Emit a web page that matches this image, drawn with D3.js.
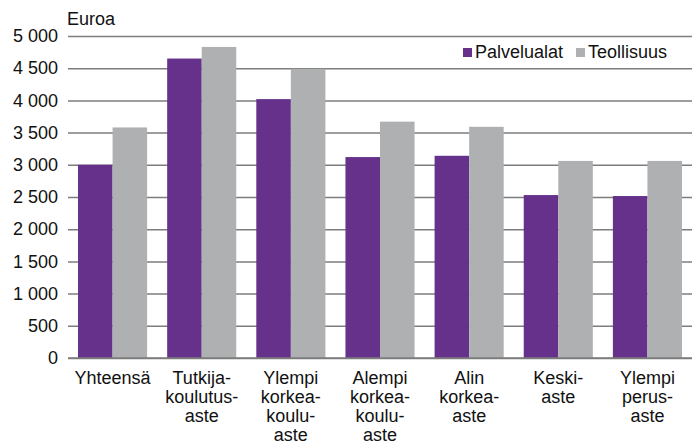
<!DOCTYPE html>
<html>
<body style="margin:0">
<meta charset="UTF-8">
<style>
    body { font-family: "Liberation Sans", Arial, sans-serif; background: white; }
    text { font-family: "Liberation Sans", Arial, sans-serif; fill: #111; }
</style>
<script src="https://d3js.org/d3.v7.min.js"></script>
<script>

    var categories = [
        ["Yhteensä"],
        ["Tutkija-", "koulutus-", "aste"],
        ["Ylempi", "korkea-", "koulu-", "aste"],
        ["Alempi", "korkea-", "koulu-", "aste"],
        ["Alin", "korkea-", "aste"],
        ["Keski-", "aste"],
        ["Ylempi", "perus-", "aste"]
    ];
    var palvelualat = [3000, 4650, 4020, 3120, 3140, 2530, 2515];
    var teollisuus = [3580, 4830, 4490, 3670, 3590, 3060, 3060];
    var seriesNames = ["Palvelualat", "Teollisuus"];
    var colors = ["#65318a", "#aeb0b2"];
    var yTicks = [0, 500, 1000, 1500, 2000, 2500, 3000, 3500, 4000, 4500, 5000];

    var width = 692, height = 441;
    var mLeft = 68, mRight = 692, mTop = 36, mBottom = 358;
    var fs = "18px";

    var svg = d3.select("body").append("svg")
        .attr("width", width)
        .attr("height", height);

    var x = d3.scaleBand()
        .domain(d3.range(categories.length))
        .range([mLeft, mRight])
        .paddingInner(0.225)
        .paddingOuter(0.1125);

    var xs = d3.scaleBand()
        .domain(d3.range(2))
        .range([0, x.bandwidth()]);

    var y = d3.scaleLinear().domain([0, 5000]).range([mBottom, mTop]);

    var fmt = function(d) { return d3.format(",")(d).replace(",", " "); };

    // gridlines + ticks
    var yAxis = svg.append("g")
        .attr("transform", "translate(" + mLeft + ",0)")
        .call(d3.axisLeft(y).tickValues(yTicks).tickSize(-(mRight - mLeft)).tickPadding(10).tickFormat(fmt));
    yAxis.select(".domain").remove();
    yAxis.selectAll("line").attr("stroke", "#7d7d7d").attr("stroke-width", 1.5);
    yAxis.selectAll("text")
        .attr("font-size", fs)
        .attr("fill", "#111")
        .attr("font-family", "Liberation Sans, Arial, sans-serif");

    svg.append("text")
        .attr("x", 67).attr("y", 25)
        .attr("font-size", fs)
        .text("Euroa");

    var data = categories.map(function(c, i) { return [palvelualat[i], teollisuus[i]]; });

    var groups = svg.selectAll(".grp")
        .data(data)
        .enter().append("g")
        .attr("class", "grp")
        .attr("transform", function(d, i) { return "translate(" + x(i) + ",0)"; });

    groups.selectAll("rect")
        .data(function(d) { return d; })
        .enter().append("rect")
        .attr("x", function(d, j) { return xs(j); })
        .attr("y", function(d) { return y(d); })
        .attr("width", xs.bandwidth())
        .attr("height", function(d) { return mBottom - y(d); })
        .style("fill", function(d, j) { return colors[j]; });

    // baseline over bars
    svg.append("line")
        .attr("x1", mLeft).attr("x2", mRight)
        .attr("y1", y(0)).attr("y2", y(0))
        .attr("stroke", "#7d7d7d").attr("stroke-width", 1.5);

    // category labels
    var labels = svg.selectAll(".lbl")
        .data(categories)
        .enter().append("text")
        .attr("class", "lbl")
        .attr("text-anchor", "middle")
        .attr("font-size", fs)
        .attr("transform", function(d, i) { return "translate(" + (x(i) + x.bandwidth() / 2) + ",384)"; });
    labels.selectAll("tspan")
        .data(function(d) { return d; })
        .enter().append("tspan")
        .attr("x", 0)
        .attr("y", function(d, k) { return k * 19; })
        .text(function(d) { return d; });

    // legend
    var legendX = [463, 576];
    var legend = svg.selectAll(".leg")
        .data(seriesNames)
        .enter().append("g")
        .attr("class", "leg")
        .attr("transform", function(d, i) { return "translate(" + legendX[i] + ",48)"; });
    legend.append("rect")
        .attr("width", 9).attr("height", 9)
        .style("fill", function(d, i) { return colors[i]; });
    legend.append("text")
        .attr("x", 12).attr("y", 10)
        .attr("font-size", fs)
        .text(function(d) { return d; });

</script>
</body>
</html>
